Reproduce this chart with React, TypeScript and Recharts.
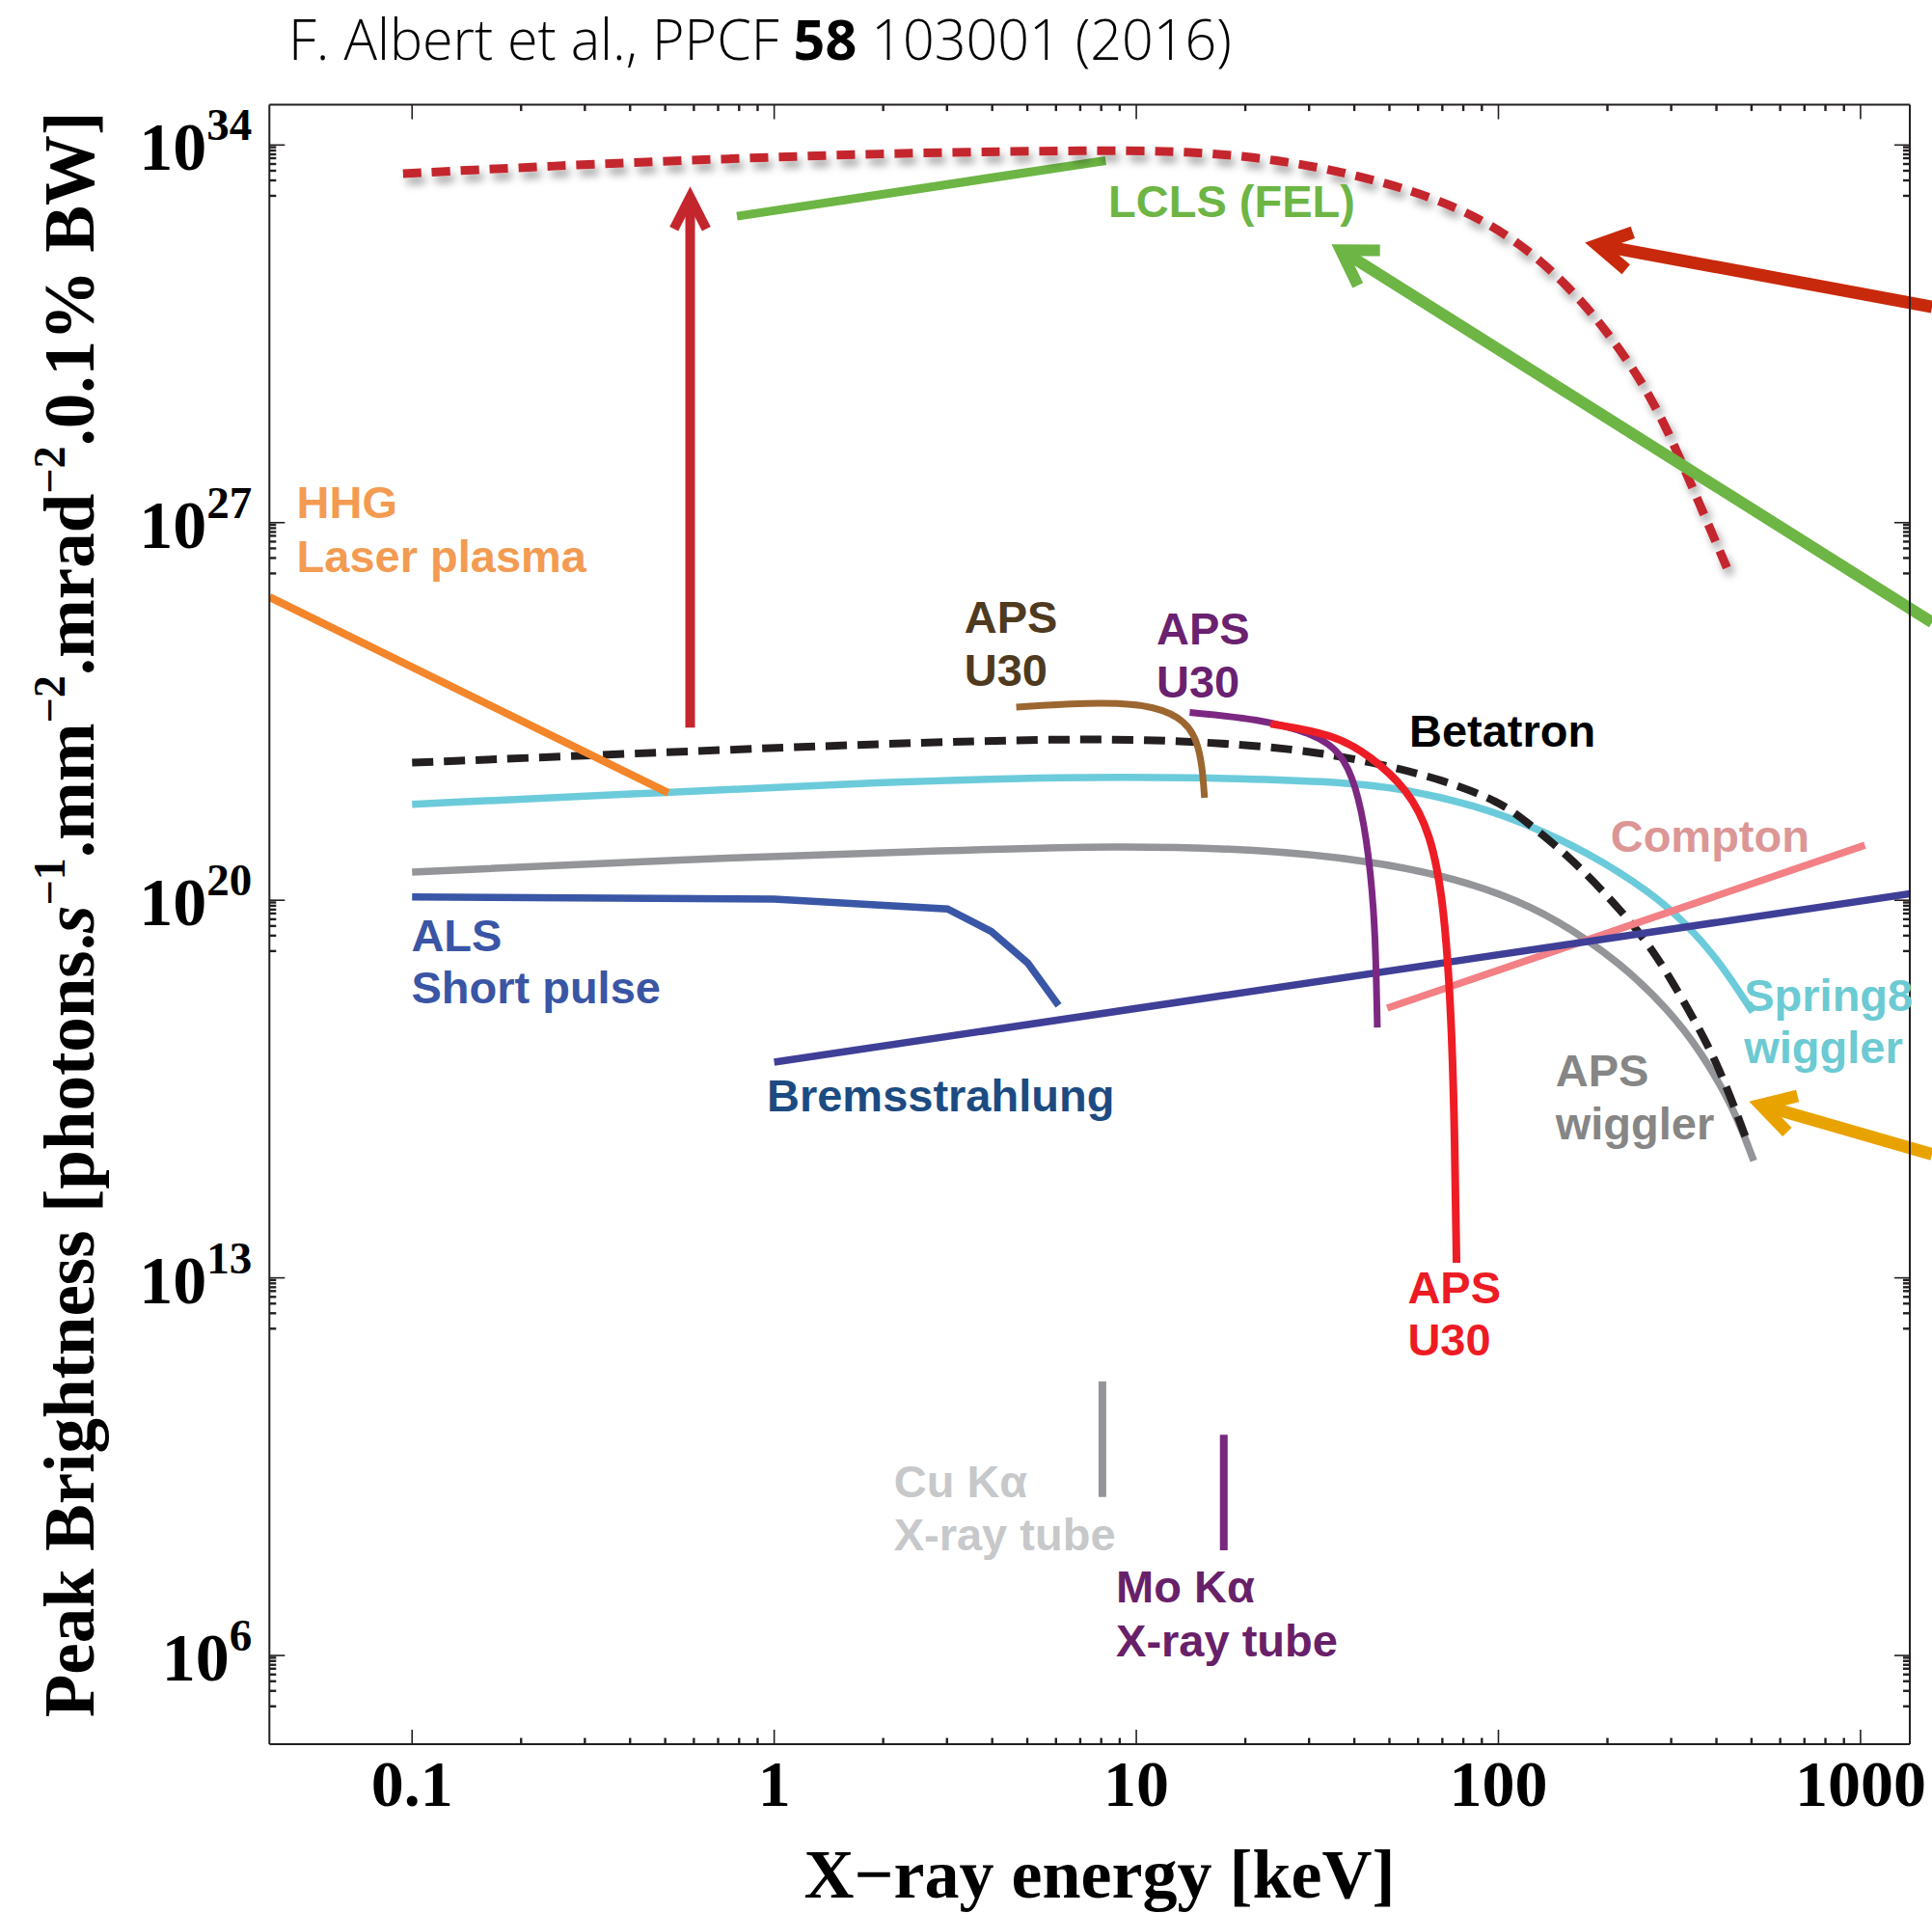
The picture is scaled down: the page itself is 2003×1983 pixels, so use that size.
import React from "react";
import { LineChart, Line, XAxis, YAxis, ReferenceLine, ReferenceDot } from "recharts";

// x = photon energy [keV], y = log10 of peak brightness
type Pt = [number, number];

const LWFA_PROJECTED: Pt[] = [
  [0.0944, 33.47], [0.238, 33.61], [0.758, 33.75], [2.41, 33.86], [7.67, 33.9], [13.7, 33.89],
  [24.4, 33.74], [43.6, 33.41], [77.8, 32.87], [116.7, 32.16], [156, 31.38], [196.5, 30.61],
  [247.6, 29.65], [294.5, 28.7], [350.5, 27.51], [429, 26.14],
];
const LCLS_FEL: Pt[] = [[0.789, 32.68], [8.23, 33.71]];
const HHG: Pt[] = [[0.0404, 25.62], [0.51, 21.99]];
const BETATRON: Pt[] = [
  [0.1, 22.55], [0.528, 22.75], [1.963, 22.9], [6.59, 23.0], [13.7, 22.96], [27.7, 22.81],
  [44.4, 22.57], [70.9, 22.23], [101, 21.82], [117.7, 21.49], [160, 20.77], [217.5, 19.82],
  [266.7, 19.1], [327.5, 18.09], [401.6, 17.02], [482.6, 15.59],
];
const SPRING8_WIGGLER: Pt[] = [
  [0.1, 21.78], [0.51, 22.0], [1.96, 22.19], [6.59, 22.29], [13.7, 22.28], [35.1, 22.21],
  [56.1, 22.06], [89.8, 21.72], [117.7, 21.43], [177, 20.89], [266.7, 20.12], [327.5, 19.58],
  [401.6, 18.93], [503.5, 17.93],
];
const APS_WIGGLER: Pt[] = [
  [0.1, 20.52], [0.51, 20.75], [3.35, 20.93], [8.57, 21.01], [21.9, 20.95], [44.4, 20.73],
  [70.9, 20.45], [101, 20.13], [144.3, 19.66], [217.5, 18.84], [295, 17.97], [362, 17.2],
  [444.6, 16.18], [507, 15.17],
];
const ALS_SHORT_PULSE: Pt[] = [[0.1, 20.06], [1.0, 20.02], [3.01, 19.84], [3.98, 19.42], [5.01, 18.84], [6.1, 18.05]];
const BREMSSTRAHLUNG: Pt[] = [[1.0, 17.0], [1368, 20.12]];
const COMPTON: Pt[] = [[49.3, 18.0], [1028, 21.02]];
const APS_U30_A: Pt[] = [[4.66, 23.58], [8.18, 23.68], [11.37, 23.6], [13.71, 23.32], [14.72, 22.95], [15.2, 22.5], [15.43, 21.9]];
const APS_U30_B: Pt[] = [
  [14.04, 23.48], [21.94, 23.36], [31.2, 23.08], [36.8, 22.74], [40.4, 22.13], [43.3, 21.17],
  [45.4, 19.8], [46.0, 18.6], [46.3, 17.64],
];
const APS_U30_C: Pt[] = [
  [23.5, 23.27], [35.1, 23.08], [44.4, 22.67], [56.1, 22.06], [65.0, 21.25], [70.9, 19.9],
  [74.3, 17.75], [75.8, 15.5], [76.6, 13.28],
];
const CU_KA: Pt[] = [[8.06, 11.08], [8.06, 8.94]];
const MO_KA: Pt[] = [[17.44, 10.09], [17.44, 7.95]];

// arrows: [tail, tip]
const ARROW_LWFA: Pt[] = [[0.586, 23.2], [0.586, 33.23]];
const ARROW_RED: Pt[] = [[1576, 31.0], [173.4, 32.19]];
const ARROW_GREEN: Pt[] = [[1576, 25.15], [34.6, 32.16]];
const ARROW_ORANGE: Pt[] = [[1576, 15.29], [492, 16.27]];

const X_MAJOR = [0.1, 1, 10, 100, 1000];
const X_MINOR_STEPS = [2, 3, 4, 5, 6, 7, 8, 9];
const Y_MAJOR_EXP = [6, 13, 20, 27, 34];
const Y_MINOR_OFFSETS = [0.041, 0.102, 0.173, 0.245, 0.352, 0.477, 0.656, 0.942];

const X_DOMAIN: [number, number] = [0.04036, 1368];
const Y_DOMAIN_EXP: [number, number] = [4.356, 34.746];

type Lbl = { text: string; e: number; b: number; color: string };
const LABELS: Lbl[] = [
  { text: "HHG", e: 0.048, b: 27.085, color: "#F39B52" },
  { text: "Laser plasma", e: 0.048, b: 26.09, color: "#F39B52" },
  { text: "LCLS (FEL)", e: 8.37, b: 32.66, color: "#6DB544" },
  { text: "APS", e: 3.35, b: 24.96, color: "#4F3A20" },
  { text: "U30", e: 3.35, b: 23.97, color: "#4F3A20" },
  { text: "APS", e: 11.37, b: 24.74, color: "#6A2170" },
  { text: "U30", e: 11.37, b: 23.755, color: "#6A2170" },
  { text: "Betatron", e: 56.7, b: 22.85, color: "#000000" },
  { text: "Compton", e: 204, b: 20.9, color: "#DC9696" },
  { text: "Spring8", e: 477, b: 17.94, color: "#6CCAD3" },
  { text: "wiggler", e: 477, b: 16.99, color: "#6CCAD3" },
  { text: "APS", e: 143.8, b: 16.55, color: "#868686" },
  { text: "wiggler", e: 143.8, b: 15.57, color: "#868686" },
  { text: "ALS", e: 0.0995, b: 19.06, color: "#3A55A4" },
  { text: "Short pulse", e: 0.0995, b: 18.085, color: "#3A55A4" },
  { text: "Bremsstrahlung", e: 0.954, b: 16.08, color: "#1C4B82" },
  { text: "APS", e: 56.15, b: 12.53, color: "#ED1C24" },
  { text: "U30", e: 56.15, b: 11.56, color: "#ED1C24" },
  { text: "Cu Kα", e: 2.14, b: 8.94, color: "#C7C8CA" },
  { text: "X-ray tube", e: 2.14, b: 7.95, color: "#C7C8CA" },
  { text: "Mo Kα", e: 8.79, b: 6.98, color: "#682069" },
  { text: "X-ray tube", e: 8.79, b: 5.98, color: "#682069" },
];

const FRAME = "#231F20";
const SERIF = "'Liberation Serif', 'Times New Roman', serif";
const SANS = "'Liberation Sans', Arial, Helvetica, sans-serif";

const pow10 = (v: number) => Math.pow(10, v);
const rows = (pts: Pt[]) => pts.map(([e, b]) => ({ e, b: pow10(b) }));

const SERIES = [
  { id: "apsw", pts: APS_WIGGLER, color: "#939598", width: 7.5, curve: "basis" },
  { id: "spring8", pts: SPRING8_WIGGLER, color: "#6CCBDA", width: 7.5, curve: "basis" },
  { id: "betatron", pts: BETATRON, color: FRAME, width: 8, curve: "basis", dash: "22 11" },
  { id: "compton", pts: COMPTON, color: "#F28085", width: 7.5, curve: "linear" },
  { id: "brems", pts: BREMSSTRAHLUNG, color: "#3F3F98", width: 7.5, curve: "linear" },
  { id: "als", pts: ALS_SHORT_PULSE, color: "#3A56A6", width: 7.5, curve: "linear" },
  { id: "u30a", pts: APS_U30_A, color: "#9C6630", width: 7, curve: "basis" },
  { id: "u30b", pts: APS_U30_B, color: "#7C2882", width: 7, curve: "basis" },
  { id: "u30c", pts: APS_U30_C, color: "#EE1D25", width: 8, curve: "basis" },
  { id: "hhg", pts: HHG, color: "#F3862A", width: 8, curve: "linear" },
  { id: "cu", pts: CU_KA, color: "#939598", width: 8, curve: "linear" },
  { id: "mo", pts: MO_KA, color: "#772A7E", width: 8, curve: "linear" },
  { id: "lcls", pts: LCLS_FEL, color: "#6DB544", width: 9, curve: "linear" },
  { id: "lwfa", pts: LWFA_PROJECTED, color: "#C4262E", width: 9, curve: "basis", dash: "19 11", shadow: true },
];

const ARROWS = [
  { id: "a-lwfa", pts: ARROW_LWFA, color: "#C4262E", width: 10, head: 48, angle: 27 },
  { id: "a-red", pts: ARROW_RED, color: "#C8290C", width: 13, head: 52, angle: 30 },
  { id: "a-green", pts: ARROW_GREEN, color: "#6DB544", width: 12, head: 52, angle: 32 },
  { id: "a-orange", pts: ARROW_ORANGE, color: "#E9A300", width: 13, head: 52, angle: 30 },
];

const X_TICKS = [
  ...X_MAJOR,
  ...X_MAJOR.slice(0, 4).flatMap((m) => X_MINOR_STEPS.map((k) => k * m)),
];
const Y_TICKS = [
  ...Y_MAJOR_EXP.map(pow10),
  ...Y_MAJOR_EXP.flatMap((m) => Y_MINOR_OFFSETS.map((o) => pow10(m - o))),
];

function AxisTick(props: any) {
  const { x, y, payload, side } = props;
  const v = payload.value as number;
  const lg = Math.log10(v);
  if (side === "left" || side === "right") {
    const major = Y_MAJOR_EXP.some((m) => Math.abs(lg - m) < 1e-6);
    const len = major ? 16 : 7;
    const dir = side === "left" ? 1 : -1;
    return (
      <g>
        <line x1={x} x2={x + dir * len} y1={y} y2={y} stroke={FRAME} strokeWidth={major ? 1.6 : 2.4} />
        {side === "left" && major && (
          <text x={x - 18} y={y + 26} textAnchor="end" fill="#000" fontFamily={SERIF} fontWeight="bold" fontSize={70}>
            10
            <tspan dy={-31} fontSize={47}>
              {Math.round(lg)}
            </tspan>
          </text>
        )}
      </g>
    );
  }
  const major = Math.abs(lg - Math.round(lg)) < 1e-6;
  const len = major ? 15 : 6.5;
  const dir = side === "bottom" ? -1 : 1;
  return (
    <g>
      <line x1={x} x2={x} y1={y} y2={y + dir * len} stroke={FRAME} strokeWidth={major ? 1.6 : 2.4} />
      {side === "bottom" && major && (
        <text x={x} y={y + 64} textAnchor="middle" fill="#000" fontFamily={SERIF} fontWeight="bold" fontSize={68}>
          {v >= 1 ? String(Math.round(v)) : String(v)}
        </text>
      )}
    </g>
  );
}

function arrowShape(color: string, width: number, head: number, angleDeg: number) {
  return (p: any) => {
    const { x1, y1, x2, y2 } = p;
    const dx = x1 - x2;
    const dy = y1 - y2;
    const len = Math.hypot(dx, dy) || 1;
    const ux = dx / len;
    const uy = dy / len;
    const a = (angleDeg * Math.PI) / 180;
    // pull the join back so the outer miter point sits on the tip
    const back = width / 2 / Math.sin(a);
    const tx = x2 + ux * back;
    const ty = y2 + uy * back;
    const L = head - back;
    const b1x = tx + L * (ux * Math.cos(a) - uy * Math.sin(a));
    const b1y = ty + L * (ux * Math.sin(a) + uy * Math.cos(a));
    const b2x = tx + L * (ux * Math.cos(-a) - uy * Math.sin(-a));
    const b2y = ty + L * (ux * Math.sin(-a) + uy * Math.cos(-a));
    return (
      <g>
        <line x1={x1} y1={y1} x2={tx} y2={ty} stroke={color} strokeWidth={width} />
        <path
          d={`M${b1x},${b1y} L${tx},${ty} L${b2x},${b2y}`}
          fill="none"
          stroke={color}
          strokeWidth={width}
          strokeLinejoin="miter"
          strokeMiterlimit={10}
        />
      </g>
    );
  };
}

function labelShape(l: Lbl) {
  return (p: any) => (
    <text x={p.cx} y={p.cy} fill={l.color} fontFamily={SANS} fontWeight="bold" fontSize={47}>
      {l.text}
    </text>
  );
}

export default function App() {
  const yDomain: [number, number] = [pow10(Y_DOMAIN_EXP[0]), pow10(Y_DOMAIN_EXP[1])];
  return (
    <div style={{ position: "absolute", left: 0, top: 0, width: 2003, height: 1983, background: "#fff", overflow: "hidden" }}>
      <svg width={0} height={0} style={{ position: "absolute" }}>
        <defs>
          <filter id="lwfaShadow" x="-5%" y="-20%" width="115%" height="150%">
            <feDropShadow dx={4} dy={7} stdDeviation={4} floodColor="#000" floodOpacity={0.35} />
          </filter>
        </defs>
      </svg>
      <LineChart width={2003} height={1983} margin={{ top: 107.6, right: 22, bottom: 75, left: 79.3 }}>
        <XAxis
          xAxisId={0}
          dataKey="e"
          type="number"
          scale="log"
          domain={X_DOMAIN}
          allowDataOverflow
          ticks={X_TICKS}
          interval={0}
          height={100}
          tickSize={0}
          tickMargin={0}
          tickLine={false}
          axisLine={{ stroke: FRAME, strokeWidth: 2 }}
          tick={<AxisTick side="bottom" />}
        />
        <XAxis
          xAxisId="top"
          orientation="top"
          dataKey="e"
          type="number"
          scale="log"
          domain={X_DOMAIN}
          allowDataOverflow
          ticks={X_TICKS}
          interval={0}
          height={1}
          tickSize={0}
          tickMargin={0}
          tickLine={false}
          axisLine={{ stroke: FRAME, strokeWidth: 2 }}
          tick={<AxisTick side="top" />}
        />
        <YAxis
          yAxisId={0}
          type="number"
          scale="log"
          domain={yDomain}
          allowDataOverflow
          ticks={Y_TICKS}
          interval={0}
          width={200}
          tickSize={0}
          tickMargin={0}
          tickLine={false}
          axisLine={{ stroke: FRAME, strokeWidth: 2 }}
          tick={<AxisTick side="left" />}
        />
        <YAxis
          yAxisId="right"
          orientation="right"
          type="number"
          scale="log"
          domain={yDomain}
          allowDataOverflow
          ticks={Y_TICKS}
          interval={0}
          width={1}
          tickSize={0}
          tickMargin={0}
          tickLine={false}
          axisLine={{ stroke: FRAME, strokeWidth: 2 }}
          tick={<AxisTick side="right" />}
        />
        {SERIES.map((s) => (
          <Line
            key={s.id}
            data={rows(s.pts)}
            dataKey="b"
            type={s.curve as any}
            stroke={s.color}
            strokeWidth={s.width}
            strokeDasharray={s.dash}
            filter={s.shadow ? "url(#lwfaShadow)" : undefined}
            dot={false}
            activeDot={false}
            isAnimationActive={false}
          />
        ))}
        {ARROWS.map((a) => (
          <ReferenceLine
            key={a.id}
            ifOverflow="visible"
            segment={[
              { x: a.pts[0][0], y: pow10(a.pts[0][1]) },
              { x: a.pts[1][0], y: pow10(a.pts[1][1]) },
            ]}
            shape={arrowShape(a.color, a.width, a.head, a.angle)}
          />
        ))}
        {LABELS.map((l, i) => (
          <ReferenceDot key={`lbl-${i}`} x={l.e} y={pow10(l.b)} r={0} ifOverflow="visible" shape={labelShape(l)} />
        ))}
      </LineChart>
      <svg width={2003} height={1983} style={{ position: "absolute", left: 0, top: 0, pointerEvents: "none" }}>
        <text
          x={299}
          y={62}
          fontSize={58}
          textLength={978}
          lengthAdjust="spacingAndGlyphs"
          fontFamily="'Open Sans', 'DejaVu Sans', sans-serif"
          fontWeight={300}
          fill="#000"
        >
          F. Albert et al., PPCF{" "}
          <tspan fontWeight="bold">58</tspan> 103001 (2016)
        </text>
        <text x={1140} y={1967} textAnchor="middle" fontFamily={SERIF} fontWeight="bold" fontSize={72} fill="#000">
          X−ray energy [keV]
        </text>
        <text
          x={97}
          y={948}
          transform="rotate(-90 97 948)"
          textAnchor="middle"
          fontFamily={SERIF}
          fontWeight="bold"
          fontSize={73}
          fill="#000"
        >
          Peak Brightness [photons.<tspan fontStyle="italic">s</tspan>
          <tspan dy={-30} fontSize={46}>−1</tspan>
          <tspan dy={30}>.mm</tspan>
          <tspan dy={-30} fontSize={46}>−2</tspan>
          <tspan dy={30}>.mrad</tspan>
          <tspan dy={-30} fontSize={46}>−2</tspan>
          <tspan dy={30}>.0.1% BW]</tspan>
        </text>
      </svg>
    </div>
  );
}
